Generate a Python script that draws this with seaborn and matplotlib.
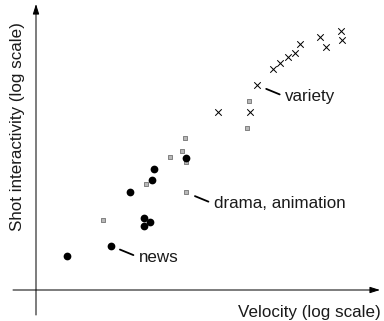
import matplotlib
matplotlib.use("Agg")
import matplotlib.pyplot as plt
import seaborn as sns
import pandas as pd

sns.set_theme(style="white")
plt.rcParams["font.family"] = ["Liberation Sans", "DejaVu Sans"]

# Genre clusters: velocity vs. shot interactivity (both log scale)
news_velocity = [2.03, 5.58, 8.71, 11.9, 13.9, 12.1, 14.6, 15.0, 31.6]
news_interactivity = [2.20, 2.77, 9.62, 5.28, 4.82, 4.37, 12.5, 16.3, 20.7]

drama_velocity = [4.71, 12.5, 21.9, 29.0, 30.7, 31.4, 31.4, 129, 135]
drama_interactivity = [4.98, 11.6, 21.4, 24.7, 33.3, 18.9, 9.48, 42.0, 77.6]

variety_velocity = [66.1, 137, 162, 236, 275, 331, 389, 440, 687, 789, 1122, 1140]
variety_interactivity = [59.8, 59.8, 112, 162, 186, 215, 233, 286, 341, 269, 392, 316]

# Labelled representative of each genre (index into its series)
labels = ["news", "drama, animation", "variety"]
label_index = [1, 6, 2]

news = pd.DataFrame({"velocity": news_velocity, "interactivity": news_interactivity})
drama = pd.DataFrame({"velocity": drama_velocity, "interactivity": drama_interactivity})
variety = pd.DataFrame({"velocity": variety_velocity, "interactivity": variety_interactivity})

W, H, DPI = 384, 321, 72
FS = 17
fig = plt.figure(figsize=(W / DPI, H / DPI), dpi=DPI)
ax = fig.add_axes([0, 0, 1, 1])
ax.set_xscale("log")
ax.set_yscale("log")
ax.set_xlim(10 ** (-0.36), 10 ** (3.48))
ax.set_ylim(10 ** (-0.31), 10 ** (2.90))
ax.set_axis_off()

sns.scatterplot(data=drama, x="velocity", y="interactivity", ax=ax, marker="s",
                s=24, color="#b8b8b8", edgecolor="#7a7a7a", linewidth=0.9, zorder=3)
sns.scatterplot(data=news, x="velocity", y="interactivity", ax=ax, marker="o",
                s=60, color="black", edgecolor="black", linewidth=0, zorder=4)
sns.scatterplot(data=variety, x="velocity", y="interactivity", ax=ax, marker="x",
                s=42, color="black", linewidth=1.0, zorder=5)

for text, frame, i in zip(labels, [news, drama, variety], label_index):
    x, y = frame["velocity"][i], frame["interactivity"][i]
    ax.annotate(text, xy=(x, y), xytext=(28, -11.5), textcoords="offset points",
                ha="left", va="center", fontsize=FS, color="#1a1a1a",
                arrowprops=dict(arrowstyle="-", color="black", lw=1.8,
                                shrinkA=3, shrinkB=10, relpos=(0, 0.5)))

# Axis arrows
arrow = dict(arrowstyle="-|>,head_length=0.7,head_width=0.22", color="black",
             lw=1.0, mutation_scale=12, shrinkA=0, shrinkB=0)
ax.annotate("", xy=(36 / W, 1 - 4 / H), xytext=(36 / W, 1 - 315 / H),
            xycoords="axes fraction", textcoords="axes fraction", arrowprops=arrow)
ax.annotate("", xy=(380 / W, 1 - 290 / H), xytext=(13 / W, 1 - 290 / H),
            xycoords="axes fraction", textcoords="axes fraction", arrowprops=arrow)

fig.text(381 / W, 1 - 312 / H, "Velocity (log scale)", ha="right", va="center",
         fontsize=FS, color="#1a1a1a")
fig.text(18 / W, 1 - 127 / H, "Shot interactivity (log scale)", ha="center",
         va="center", rotation=90, fontsize=FS, color="#1a1a1a")

fig.savefig("out.png", dpi=DPI, facecolor="white")
